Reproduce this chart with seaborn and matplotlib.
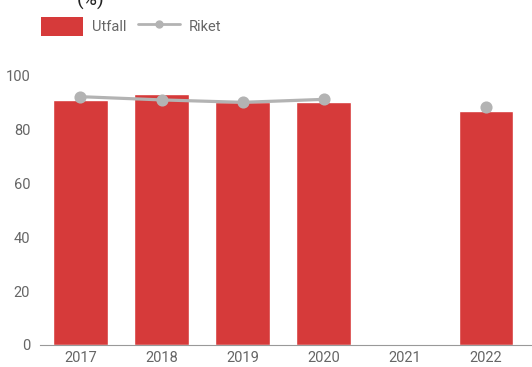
import matplotlib
matplotlib.use("Agg")
import matplotlib.pyplot as plt
from matplotlib.patches import Patch
from matplotlib.lines import Line2D
import pandas as pd
import seaborn as sns

years = ["2017", "2018", "2019", "2020", "2021", "2022"]
utfall = [91.1, 93.2, 90.2, 90.2, None, 87.1]
riket = [92.3, 91.1, 90.2, 91.3, None, 88.4]

red = "#d63a3a"
grey = "#b3b3b3"
txt = "#666666"

sns.set_style("white")
plt.rcParams["font.family"] = ["Roboto", "DejaVu Sans"]

df = pd.DataFrame({"year": years, "utfall": utfall, "riket": riket})

fig = plt.figure(figsize=(5.32, 3.67), dpi=100)
ax = fig.add_axes([0.075, 0.06, 0.925, 0.733])

sns.barplot(data=df, x="year", y="utfall", order=years, color=red,
            saturation=1, width=0.67, ax=ax)

# line for connected years, lone point for 2022
connected = df.iloc[:4]
sns.pointplot(data=connected, x="year", y="riket", order=years, color=grey,
              markers="o", markersize=7, linewidth=2.3, ax=ax)
sns.pointplot(data=df.iloc[5:], x="year", y="riket", order=years, color=grey,
              markers="o", markersize=7, linewidth=2.3, ax=ax)

ax.set_ylim(0, 100)
ax.set_xlim(-0.5, 5.57)
ax.set_yticks([0, 20, 40, 60, 80, 100])
ax.set_xlabel("")
ax.set_ylabel("")
for s in ["top", "right", "left"]:
    ax.spines[s].set_visible(False)
ax.spines["bottom"].set_color("#999999")
ax.tick_params(axis="both", length=0, labelsize=10.5, labelcolor=txt)
ax.tick_params(axis="x", pad=4)
ax.tick_params(axis="y", pad=7)

handles = [Patch(facecolor=red, edgecolor="none"),
           Line2D([], [], color=grey, marker="o", markersize=5, linewidth=2)]
fig.legend(handles, ["Utfall", "Riket"], loc="upper left",
           bbox_to_anchor=(0.052, 0.99), ncol=2, frameon=False,
           fontsize=10.5, labelcolor=txt, handlelength=2.9, handleheight=1.6,
           columnspacing=0.8, handletextpad=0.6)

fig.text(0.17, 1.0, "(%)", fontsize=14, color="#222222", ha="center", va="center")

fig.savefig("out.png", dpi=100)
